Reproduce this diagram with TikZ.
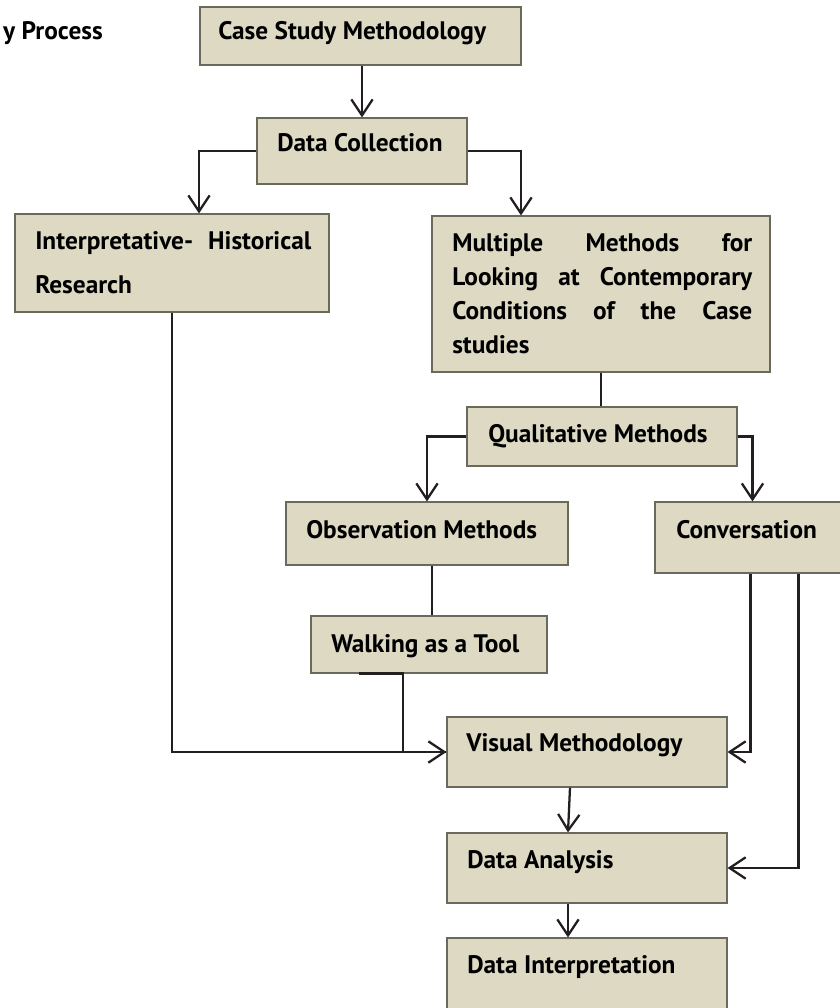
\documentclass[tikz,border=0pt]{standalone}
\usepackage{fontspec}
\setmainfont{PT Sans}
\usetikzlibrary{arrows.meta,fit,calc}
\definecolor{boxfill}{HTML}{DDD9C3}
\definecolor{boxline}{HTML}{6B685C}
\definecolor{wirecol}{HTML}{231F20}

\begin{document}
\begin{tikzpicture}[x=0.75pt,y=-0.75pt,
  box/.style={draw=boxline, fill=boxfill, line width=0.9pt, inner sep=0pt, rectangle},
  lbl/.style={anchor=base west, inner sep=0pt, font=\fontsize{19}{22}\selectfont\bfseries, text=black},
  wire/.style={draw=wirecol, line width=1.7pt},
  arr/.style={wire, -{Straight Barb[length=12pt,width=16pt]}},
]
\useasboundingbox (0,0) rectangle (840,1008);
\clip (0,0) rectangle (840,1008);

% boxes
\node[box, fit={(200,7)(521,65)}]   (cs) {};
\node[box, fit={(257,118)(467,184)}] (dc) {};
\node[box, fit={(15,214)(329,312)}]  (ih) {};
\node[box, fit={(432,216)(770,372)}] (mm) {};
\node[box, fit={(467,407)(737,466)}] (qm) {};
\node[box, fit={(286,502)(568,565)}] (om) {};
\node[box, fit={(655,502)(850,573)}] (cv) {};
\node[box, fit={(311,616)(547,673)}] (wt) {};
\node[box, fit={(447,717)(727,787)}] (vm) {};
\node[box, fit={(447,833)(727,903)}] (da) {};
\node[box, fit={(447,938)(727,1020)}] (di) {};

% labels
\node[lbl, anchor=base east] (ttl) at (103,39) {y Process};
\node[lbl] (tcs) at (218,39) {Case Study Methodology};
\node[lbl] (tdc) at (277,151) {Data Collection};
\node[lbl] (tih1) at (35,249) {\makebox[207pt][s]{Interpretative- Historical}};
\node[lbl] (tih2) at (35,293) {Research};
\node[lbl] (tmm1) at (452,251) {\makebox[225pt][s]{Multiple Methods for}};
\node[lbl] (tmm2) at (452,285) {\makebox[225pt][s]{Looking at Contemporary}};
\node[lbl] (tmm3) at (452,319) {\makebox[225pt][s]{Conditions of the Case}};
\node[lbl] (tmm4) at (452,353) {studies};
\node[lbl] (tqm) at (488,442) {Qualitative Methods};
\node[lbl] (tom) at (306,538) {Observation Methods};
\node[lbl] (tcv) at (676,538) {Conversation};
\node[lbl] (twt) at (331,652) {Walking as a Tool};
\node[lbl] (tvm) at (466,751) {Visual Methodology};
\node[lbl] (tda) at (467,868) {Data Analysis};
\node[lbl] (tdi) at (467,973) {Data Interpretation};

% connector end points offset from box centres
\coordinate (owt) at ($(om.south)+(5,0)$);
\coordinate (wa) at ($(wt.south)+(-70,0)$);
\coordinate (wb) at ($(wt.south)+(-26,0)$);
\coordinate (cva) at ($(cv.south)+(-2,0)$);
\coordinate (cvb) at ($(cv.south)+(46,0)$);
\coordinate (vmo) at ($(vm.south)+(-17,0)$);
\coordinate (dai) at ($(da.north)+(-19,0)$);
\coordinate (dao) at ($(da.south)+(-19,0)$);
\coordinate (dii) at ($(di.north)+(-19,0)$);
\coordinate (ihi) at ($(ih.north)+(27,0)$);
\coordinate (mmi) at ($(mm.north)+(-80,0)$);

% connectors
\draw[arr] (dc.north |- cs.south) -- (dc.north);
\draw[arr] (dc.west) -| (ihi);
\draw[arr] (dc.east) -| (mmi);
\draw[wire] (mm.south) -- (mm.south |- qm.north);
\draw[arr] (qm.west) -| (om.north);
\draw[arr] (qm.east) -| (cv.north);
\draw[wire] (owt) -- (owt |- wt.north);
\draw[wire] (wa) -- (wb) |- (vm.west);
\draw[arr] (ih.south) |- (vm.west);
\draw[arr] (cva) |- (vm.east);
\draw[arr] (cvb) |- (da.east);
\draw[arr] (vmo) -- (dai);
\draw[arr] (dao) -- (dii);
\end{tikzpicture}
\end{document}
